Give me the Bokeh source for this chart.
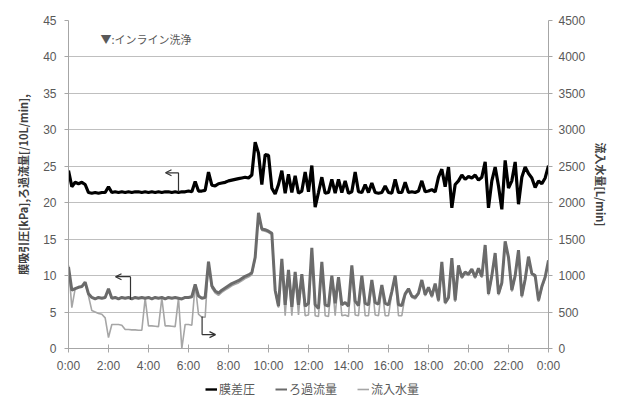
from bokeh.plotting import figure
from bokeh.layouts import column
from bokeh.models import (Range1d, LinearAxis, FixedTicker, Legend, LegendItem,
                          Label, Arrow, OpenHead)
from bokeh.embed import file_html
from bokeh.resources import INLINE

# 10-minute samples, 0:00 .. 24:00
pressure = [24.4, 22.2, 22.8, 22.6, 22.8, 22.5, 21.4, 21.3, 21.4, 21.3, 21.4, 21.4,
            22.2, 21.4, 21.5, 21.4, 21.5, 21.4, 21.5, 21.4, 21.5, 21.5, 21.4, 21.5,
            21.4, 21.5, 21.4, 21.5, 21.4, 21.5, 21.5, 21.4, 21.5, 21.4, 21.5, 21.5,
            21.6, 21.5, 22.9, 21.6, 21.6, 21.7, 24.2, 22.4, 22.3, 22.6, 22.7, 22.8,
            23.0, 23.1, 23.2, 23.3, 23.4, 23.5, 23.4, 23.8, 28.3, 26.8, 22.5, 26.6,
            26.5, 22.0, 21.2, 22.5, 24.4, 21.3, 23.9, 21.4, 23.7, 21.3, 21.6, 24.2,
            21.5, 25.1, 19.4, 21.4, 23.5, 21.3, 21.4, 23.2, 21.3, 23.2, 21.4, 23.0,
            21.3, 21.5, 24.2, 21.5, 21.4, 22.5, 21.4, 22.7, 21.4, 21.3, 21.4, 22.3,
            21.4, 21.3, 23.2, 21.4, 21.4, 22.8, 21.4, 21.5, 21.4, 21.6, 23.0, 21.5,
            21.6, 21.8, 21.5, 23.5, 24.6, 22.2, 24.9, 19.3, 22.5, 23.0, 23.8, 23.2,
            23.6, 23.4, 23.8, 23.1, 23.5, 25.6, 19.3, 23.0, 24.9, 22.3, 19.1, 25.8,
            22.0, 23.0, 25.6, 19.8, 23.5, 24.9, 24.0, 23.4, 22.1, 23.0, 22.6, 23.4,
            25.1]

filtration = [11.2, 8.0, 8.2, 8.4, 8.5, 9.1, 7.5, 7.0, 6.8, 7.0, 6.9, 7.0,
              8.2, 6.9, 7.0, 6.8, 7.0, 6.9, 7.0, 6.8, 7.0, 6.9, 7.0, 6.9,
              7.0, 6.8, 7.0, 6.9, 7.0, 6.8, 7.0, 6.9, 7.0, 6.9, 6.8, 7.0,
              7.0, 7.1, 8.8, 7.2, 6.9, 7.0, 11.9, 8.6, 7.9, 7.6, 8.0, 8.3,
              8.6, 8.9, 9.1, 9.3, 9.6, 9.9, 10.1, 10.4, 12.5, 18.6, 16.4, 16.3,
              16.1, 15.8, 8.0, 5.8, 12.3, 6.0, 10.8, 5.7, 10.5, 6.0, 10.2, 5.8,
              6.2, 13.8, 6.0, 5.5, 11.9, 6.0, 5.8, 10.0, 6.2, 9.8, 6.0, 6.3,
              5.8, 11.4, 6.5, 5.9, 10.0, 6.2, 6.0, 9.4, 6.3, 6.1, 8.7, 6.2,
              6.0, 7.8, 10.0, 6.0, 5.9, 7.5, 8.2, 7.2, 7.0, 7.6, 9.4, 7.4,
              8.4, 7.2, 8.9, 6.6, 11.9, 6.3, 7.0, 12.4, 6.6, 11.4, 9.8, 10.5,
              10.2, 10.9, 9.8, 11.0, 9.9, 14.2, 7.5, 10.0, 13.1, 7.5, 9.0, 14.7,
              12.5, 8.0, 10.0, 13.5, 7.2, 9.5, 12.6, 10.3, 10.0, 6.6, 8.5, 9.8,
              12.1]

inflow = [1140, 560, 820, 840, 850, 900, 720, 520, 500, 480, 470, 420,
          150, 330, 330, 330, 320, 260, 260, 255, 255, 250, 250, 690,
          310, 310, 305, 300, 690, 310, 310, 305, 300, 690, 0, 330,
          330, 320, 880, 470, 430, 430, 1190, 830, 760, 730, 770, 800,
          830, 860, 880, 900, 930, 960, 980, 1010, 1230, 1840, 1620, 1610,
          1590, 1560, 780, 560, 1210, 450, 1060, 450, 1030, 460, 1000, 450,
          460, 1360, 450, 440, 1170, 450, 440, 980, 450, 960, 450, 460,
          440, 1120, 460, 450, 980, 450, 450, 920, 460, 450, 850, 450,
          450, 760, 980, 450, 450, 730, 800, 700, 680, 740, 920, 720,
          820, 700, 870, 640, 1170, 610, 680, 1220, 640, 1120, 960, 1030,
          1000, 1070, 960, 1080, 970, 1400, 730, 980, 1290, 730, 880, 1450,
          1230, 780, 980, 1330, 700, 930, 1240, 1010, 980, 640, 830, 960,
          1190]

hours = [i / 6 for i in range(len(pressure))]
x_ticks = list(range(0, 25, 2))
x_labels = ["0:00", "2:00", "4:00", "6:00", "8:00", "10:00", "12:00",
            "14:00", "16:00", "18:00", "20:00", "22:00", "0:00"]
names = ["膜差圧", "ろ過流量", "流入水量"]

NUM_FONT = "Liberation Sans"
JP_FONT = "Noto Sans CJK JP"
TXT = "#595959"
GRID = "#bfbfbf"
C_P, W_P = "black", 3.2
C_F, W_F = "#6b6b6b", 3.0
C_I, W_I = "#a6a6a6", 1.6

p = figure(frame_width=480, frame_height=328, output_backend="svg", toolbar_location=None,
           x_range=Range1d(0, 24), y_range=Range1d(0, 45),
           min_border_left=68, min_border_right=66, min_border_top=20,
           min_border_bottom=30)
p.outline_line_color = None
p.background_fill_color = "white"
p.border_fill_color = "white"

p.extra_y_ranges = {"inflow": Range1d(0, 4500)}

r_in = p.line(hours, inflow, y_range_name="inflow", line_color=C_I, line_width=W_I)
r_f = p.line(hours, filtration, line_color=C_F, line_width=W_F)
r_p = p.line(hours, pressure, line_color=C_P, line_width=W_P)

# axes
p.xaxis.ticker = FixedTicker(ticks=x_ticks)
p.xaxis.major_label_overrides = {t: l for t, l in zip(x_ticks, x_labels)}
p.xaxis.minor_tick_line_color = None
p.yaxis.ticker = FixedTicker(ticks=list(range(0, 46, 5)))
p.yaxis.minor_tick_line_color = None
p.yaxis.axis_label = "膜吸引圧[kPa],ろ過流量[/10L/min],"

ax_r = LinearAxis(y_range_name="inflow", ticker=FixedTicker(ticks=list(range(0, 4501, 500))),
                  axis_label="流入水量[L/min]")
ax_r.minor_tick_line_color = None
p.add_layout(ax_r, "right")

for ax in [p.xaxis[0], p.yaxis[0], ax_r]:
    ax.axis_line_color = "#a6a6a6"
    ax.major_tick_line_color = "#a6a6a6"
    ax.major_tick_out = 4
    ax.major_tick_in = 0
    ax.major_label_text_font = NUM_FONT
    ax.major_label_text_font_size = "12px"
    ax.major_label_text_color = TXT
    ax.axis_label_text_font = JP_FONT
    ax.axis_label_text_font_size = "11px"
    ax.axis_label_text_font_style = "bold"
    ax.axis_label_text_color = "#404040"
p.xaxis.major_tick_in = 4
p.xaxis.major_label_standoff = 6
p.yaxis.major_label_standoff = 8
p.yaxis.axis_label_standoff = 9
ax_r.major_label_standoff = 6
ax_r.axis_label_standoff = 5

p.xgrid.grid_line_color = None
p.ygrid.grid_line_color = GRID
p.ygrid.grid_line_width = 1

# annotations
p.add_layout(Label(x=1.6, y=42.5, text="▼:インライン洗浄", text_font=JP_FONT,
                   text_font_size="11px", text_color=TXT, text_baseline="middle"))

def bracket(xh, yh, xc, yc, xe, ye):
    p.add_layout(Arrow(end=OpenHead(size=6, line_color="#333333", line_width=1.2),
                       x_start=xc, y_start=yc, x_end=xh, y_end=yh,
                       line_color="#333333", line_width=1.2))
    p.segment(x0=[xc], y0=[yc], x1=[xe], y1=[ye], line_color="#333333", line_width=1.2)

bracket(4.85, 24.1, 5.5, 24.1, 5.5, 21.5)
bracket(2.35, 9.85, 3.1, 9.85, 3.1, 6.7)
bracket(7.35, 1.9, 6.68, 1.9, 6.68, 4.4)

# legend strip below the chart (its frame is aligned with the chart frame)
lg = figure(width=614, height=22, output_backend="svg", toolbar_location=None,
            x_axis_location=None, y_axis_location=None,
            x_range=Range1d(0, 1), y_range=Range1d(0, 1), min_border=0)
lg.outline_line_color = None
lg.grid.visible = False
# off-range samples so only the legend glyphs are visible
g_p = lg.line([5, 6], [5, 6], line_color=C_P, line_width=2.4)
g_f = lg.line([5, 6], [5, 6], line_color=C_F, line_width=2.0)
g_i = lg.line([5, 6], [5, 6], line_color=C_I, line_width=1.6)
legend = Legend(items=[LegendItem(label=names[0], renderers=[g_p]),
                       LegendItem(label=names[1], renderers=[g_f]),
                       LegendItem(label=names[2], renderers=[g_i])],
                orientation="horizontal", location=(137, 3),
                label_text_font=JP_FONT, label_text_font_size="12px",
                label_text_color=TXT, glyph_width=12, glyph_height=10,
                label_height=14, spacing=20, padding=0, margin=0,
                border_line_color=None, label_standoff=2,
                background_fill_alpha=0)
lg.add_layout(legend, "center")

page = column(p, lg, spacing=0)
open("out.html", "w").write(file_html(page, INLINE))
